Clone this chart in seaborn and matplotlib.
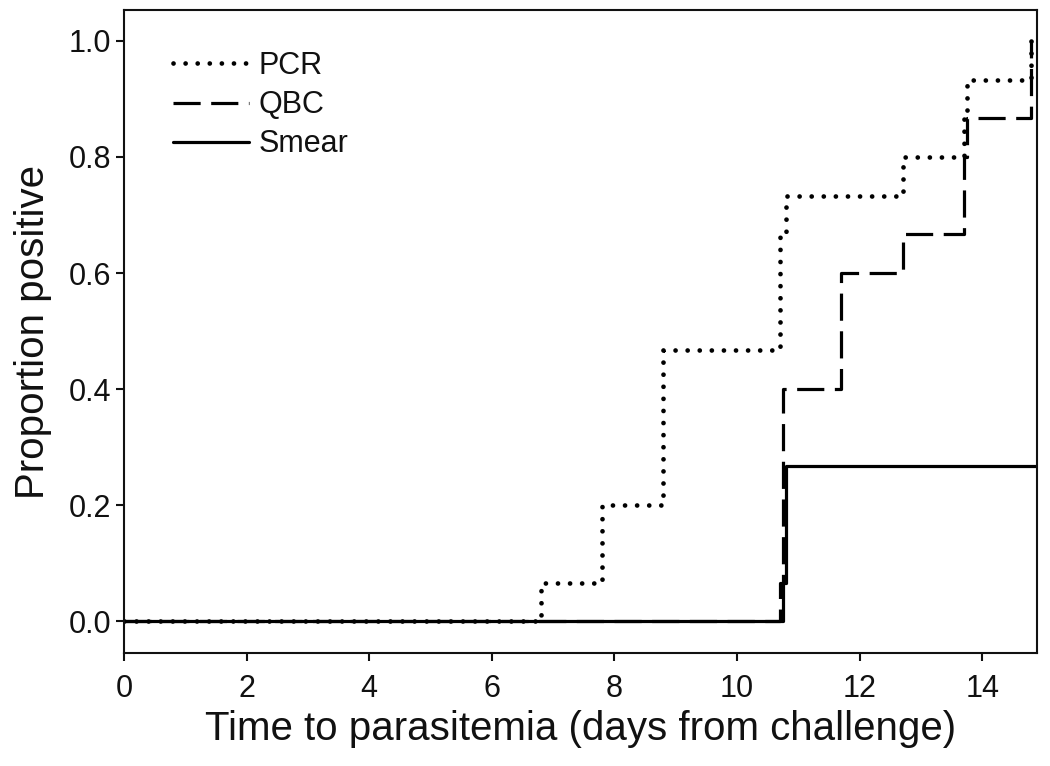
import numpy as np
import pandas as pd
import seaborn as sns
import matplotlib
matplotlib.use("Agg")
import matplotlib.pyplot as plt

# step data (days, proportion positive)
pcr_days = [0, 6.8, 7.8, 8.8, 10.7, 10.8, 12.7, 13.7, 13.75, 14.8]
pcr_prop = [0, 0.067, 0.2, 0.467, 0.667, 0.733, 0.8, 0.867, 0.933, 1.0]

qbc_days = [0, 10.7, 10.75, 11.7, 12.7, 13.7, 13.75, 14.8]
qbc_prop = [0, 0.067, 0.4, 0.6, 0.667, 0.8, 0.867, 1.0]

smear_days = [0, 10.75, 10.8, 14.9]
smear_prop = [0, 0.067, 0.267, 0.267]

x_ticks = [0, 2, 4, 6, 8, 10, 12, 14]
y_ticks = [0.0, 0.2, 0.4, 0.6, 0.8, 1.0]

sns.set_style("ticks")
plt.rcParams["font.family"] = ["Liberation Sans", "DejaVu Sans"]

fig = plt.figure(figsize=(10.5, 7.66), dpi=100)
ax = fig.add_axes([0.118, 0.147, 0.870, 0.840])

series = [
    ("PCR", pcr_days, pcr_prop, dict(lw=3.4, linestyle=(0, (0.01, 2.55)), dash_capstyle="round")),
    ("QBC", qbc_days, qbc_prop, dict(lw=2.3, linestyle=(0, (8.5, 3.3)))),
    ("Smear", smear_days, smear_prop, dict(lw=2.3, linestyle="-")),
]
for name, xs, ys, style in series:
    df = pd.DataFrame({"days": xs, "prop": ys})
    sns.lineplot(data=df, x="days", y="prop", ax=ax, color="black",
                 drawstyle="steps-post", estimator=None, sort=False,
                 label=name, **style)

ax.set_xlim(0, 14.9)
ax.set_ylim(-0.055, 1.053)
ax.set_xticks(x_ticks)
ax.set_xticklabels([str(t) for t in x_ticks])
ax.set_yticks(y_ticks)
ax.set_yticklabels([f"{t:.1f}" for t in y_ticks])
ax.tick_params(axis="x", pad=9)
ax.tick_params(axis="y", pad=3)
ax.tick_params(axis="both", direction="out", length=6, width=1.5,
               labelsize=22, colors="#111111")
for s in ax.spines.values():
    s.set_linewidth(1.5)
    s.set_color("#111111")

ax.set_xlabel("Time to parasitemia (days from challenge)", fontsize=29,
              color="#111111", labelpad=4)
ax.set_ylabel("Proportion positive", fontsize=29, color="#111111", labelpad=12)

leg = ax.legend(loc="upper left", frameon=False, fontsize=22, handlelength=2.5,
                handletextpad=0.3, labelspacing=0.3, borderaxespad=0.0,
                bbox_to_anchor=(0.04, 0.955))
for t in leg.get_texts():
    t.set_color("#111111")

fig.savefig("out.png", dpi=100)
